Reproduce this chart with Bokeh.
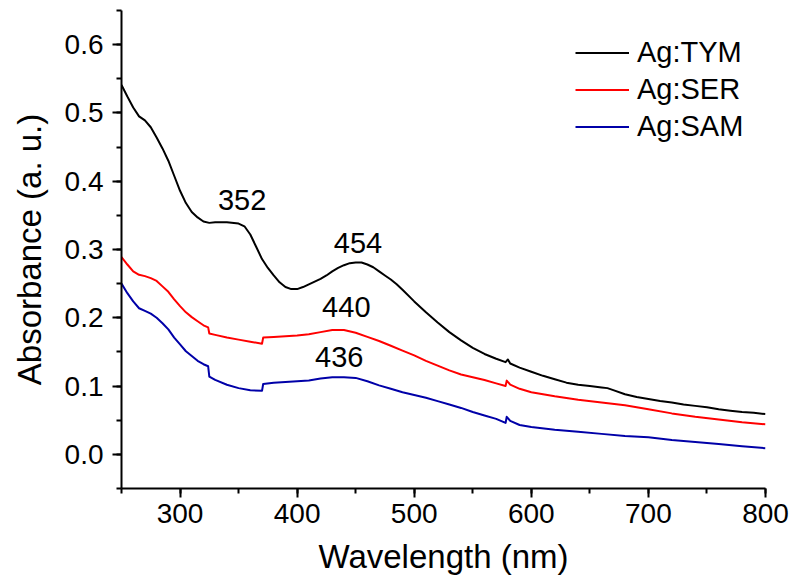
from bokeh.plotting import figure
from bokeh.models import Range1d, Legend, LegendItem, Label, FixedTicker, CustomJSTickFormatter
from bokeh.embed import file_html
from bokeh.resources import INLINE

# ---------------- data ----------------
wl_tym = [250, 255, 260, 265, 270, 275, 280, 285, 290, 295, 300, 305, 310, 315, 320, 325, 330, 340, 350, 355,
          360, 365, 370, 375, 380, 385, 390, 395, 400, 405, 410, 415, 420, 425, 430, 435, 440, 445, 450, 455,
          460, 465, 470, 475, 480, 485, 490, 500, 510, 520, 530, 540, 550, 560, 570, 578, 580, 582, 590, 600,
          610, 620, 630, 640, 650, 660, 665, 670, 680, 690, 700, 710, 720, 730, 740, 750, 760, 770, 780, 790, 800]
ab_tym = [0.541, 0.524, 0.508, 0.495, 0.489, 0.479, 0.464, 0.448, 0.430, 0.408, 0.386, 0.368, 0.355, 0.347, 0.341,
          0.339, 0.340, 0.340, 0.338, 0.334, 0.322, 0.304, 0.286, 0.273, 0.262, 0.252, 0.245, 0.242, 0.242, 0.245,
          0.249, 0.253, 0.257, 0.262, 0.268, 0.273, 0.277, 0.280, 0.281, 0.281, 0.278, 0.274, 0.268, 0.262, 0.256,
          0.249, 0.241, 0.224, 0.208, 0.193, 0.179, 0.167, 0.156, 0.147, 0.140, 0.135, 0.139, 0.133, 0.127, 0.121,
          0.115, 0.110, 0.105, 0.102, 0.100, 0.098, 0.097, 0.094, 0.088, 0.084, 0.081, 0.078, 0.076, 0.073, 0.071,
          0.069, 0.066, 0.064, 0.062, 0.061, 0.059]

wl_ser = [250, 255, 260, 265, 270, 275, 280, 285, 290, 295, 300, 305, 310, 315, 320, 324, 325, 330, 340, 350,
          360, 370, 371, 380, 390, 400, 410, 420, 430, 440, 450, 460, 470, 480, 490, 500, 510, 520, 530, 540,
          550, 560, 570, 578, 579, 582, 590, 600, 620, 640, 660, 680, 700, 720, 740, 760, 780, 800]
ab_ser = [0.289, 0.278, 0.268, 0.263, 0.261, 0.258, 0.254, 0.246, 0.238, 0.227, 0.217, 0.208, 0.201, 0.195, 0.189,
          0.186, 0.177, 0.175, 0.171, 0.168, 0.165, 0.162, 0.171, 0.172, 0.173, 0.174, 0.176, 0.179, 0.182, 0.182,
          0.178, 0.172, 0.166, 0.159, 0.152, 0.145, 0.137, 0.130, 0.123, 0.117, 0.113, 0.109, 0.104, 0.100, 0.108,
          0.102, 0.096, 0.091, 0.085, 0.080, 0.076, 0.072, 0.066, 0.060, 0.055, 0.051, 0.047, 0.044]

wl_sam = [250, 255, 260, 265, 270, 275, 280, 285, 290, 295, 300, 305, 310, 315, 320, 324, 325, 330, 340, 350,
          360, 370, 371, 380, 390, 400, 410, 420, 430, 440, 450, 460, 470, 480, 490, 500, 510, 520, 530, 540,
          550, 560, 570, 578, 579, 582, 590, 600, 620, 640, 660, 680, 700, 720, 740, 760, 780, 800]
ab_sam = [0.250, 0.236, 0.224, 0.214, 0.210, 0.206, 0.200, 0.192, 0.183, 0.171, 0.161, 0.151, 0.144, 0.137, 0.132,
          0.129, 0.114, 0.109, 0.102, 0.097, 0.094, 0.093, 0.103, 0.105, 0.106, 0.107, 0.108, 0.111, 0.113, 0.113,
          0.112, 0.107, 0.101, 0.096, 0.091, 0.087, 0.083, 0.078, 0.073, 0.068, 0.062, 0.057, 0.052, 0.046, 0.055,
          0.049, 0.043, 0.040, 0.036, 0.033, 0.030, 0.027, 0.025, 0.021, 0.018, 0.015, 0.012, 0.009]

series_names = ["Ag:TYM", "Ag:SER", "Ag:SAM"]
peak_labels = ["352", "454", "440", "436"]
x_ticks = [300, 400, 500, 600, 700, 800]
y_ticks = [0.0, 0.1, 0.2, 0.3, 0.4, 0.5, 0.6]

# ---------------- styling / layout ----------------
FONT = "Liberation Sans"
colors = ["#000000", "#FF0000", "#0000A8"]
peak_pos = [(353, 0.373), (452, 0.309), (442, 0.216), (436, 0.142)]

p = figure(width=790, height=582, output_backend="svg", toolbar_location=None,
           x_range=Range1d(250, 800), y_range=Range1d(-0.05, 0.65),
           min_border_left=121, min_border_right=25, min_border_top=10, min_border_bottom=94)
p.outline_line_color = None
p.grid.visible = False
p.background_fill_color = "white"

renderers = []
for wl, ab, c in zip([wl_tym, wl_ser, wl_sam], [ab_tym, ab_ser, ab_sam], colors):
    r = p.line(wl, ab, line_color=c, line_width=2, line_join="round")
    renderers.append(r)

for ax in (p.xaxis[0], p.yaxis[0]):
    ax.axis_line_width = 2
    ax.axis_line_color = "black"
    ax.major_tick_line_width = 2
    ax.minor_tick_line_width = 2
    ax.major_tick_line_color = "black"
    ax.minor_tick_line_color = "black"
    ax.major_tick_out = 9
    ax.major_tick_in = 0
    ax.minor_tick_out = 5
    ax.minor_tick_in = 0
    ax.major_label_text_font = FONT
    ax.major_label_text_font_size = "28px"
    ax.major_label_text_color = "black"
    ax.axis_label_text_font = FONT
    ax.axis_label_text_font_size = "33px"
    ax.axis_label_text_font_style = "normal"
    ax.axis_label_text_color = "black"

p.xaxis[0].ticker = FixedTicker(ticks=x_ticks, minor_ticks=list(range(250, 801, 50)))
p.yaxis[0].ticker = FixedTicker(ticks=y_ticks, minor_ticks=[round(-0.05 + 0.05 * i, 2) for i in range(15)])
p.yaxis[0].formatter = CustomJSTickFormatter(code="return tick.toFixed(1);")
p.xaxis.axis_label = "Wavelength (nm)"
p.yaxis.axis_label = "Absorbance (a. u.)"
p.xaxis.major_label_standoff = 6
p.yaxis.major_label_standoff = 9
p.xaxis.axis_label_standoff = 12
p.yaxis.axis_label_standoff = 14

legend = Legend(items=[LegendItem(label=n, renderers=[r]) for n, r in zip(series_names, renderers)],
                location=(454, 343), padding=0, spacing=0, margin=0,
                glyph_width=54, glyph_height=37, label_height=37, label_standoff=8,
                label_text_font=FONT, label_text_font_size="29px", label_text_color="black",
                border_line_color=None, background_fill_alpha=0)
p.add_layout(legend)

for txt, (px, py) in zip(peak_labels, peak_pos):
    p.add_layout(Label(x=px, y=py, text=txt, text_align="center", text_baseline="middle",
                       text_font=FONT, text_font_size="29px", text_color="black"))

open("out.html", "w").write(file_html(p, INLINE))
